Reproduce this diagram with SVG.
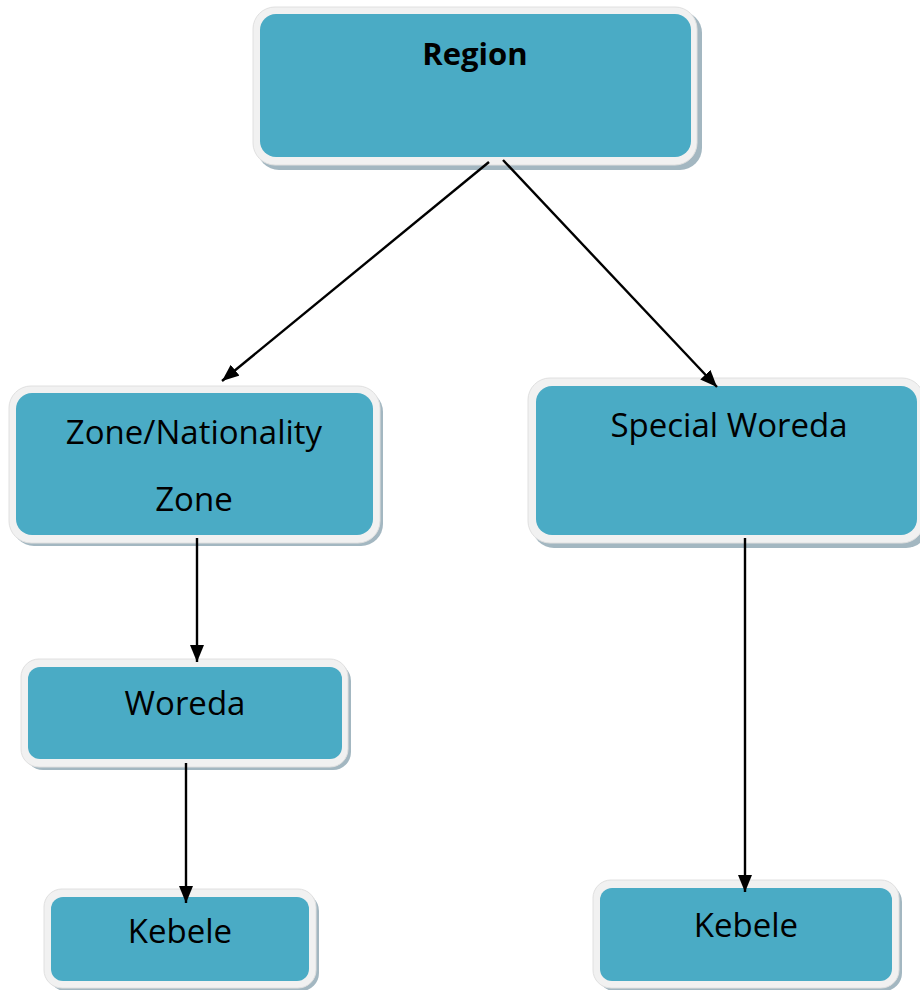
<svg xmlns="http://www.w3.org/2000/svg" width="920" height="990" viewBox="0 0 920 990">
<defs>
<style>
.sh{fill:#a3b7c1}
.out{fill:#f1f1f1;stroke:#e0e0e0;stroke-width:1}
.in{fill:#4aabc5}
.t{font-family:"Open Sans","Liberation Sans",sans-serif;font-size:33px;fill:#000;text-anchor:middle}
.b{font-weight:bold;font-size:31px}
.c{stroke:#000;stroke-width:2.4;fill:none;marker-end:url(#ah)}
</style>
<marker id="ah" viewBox="0 0 17 14" refX="17" refY="7" markerWidth="17" markerHeight="14" markerUnits="userSpaceOnUse" orient="auto">
<path d="M0,0 L17,7 L0,14 Z" fill="#000"/>
</marker>
</defs>
<rect width="920" height="990" fill="#fff"/>
<g id="region">
<rect class="sh" x="257" y="11" width="445" height="159" rx="22"/>
<rect class="out" x="253" y="7" width="444" height="158" rx="22"/>
<rect class="in" x="260" y="14" width="431" height="143" rx="16"/>
<text class="t b" x="475" y="65">Region</text>
</g>
<g id="zone">
<rect class="sh" x="12" y="390" width="371" height="156" rx="22"/>
<rect class="out" x="9" y="386" width="371" height="157" rx="22"/>
<rect class="in" x="16" y="393" width="357" height="142" rx="16"/>
<text class="t" x="194" y="444">Zone/Nationality</text>
<text class="t" x="194" y="511">Zone</text>
</g>
<g id="special-woreda">
<rect class="sh" x="532" y="383" width="396" height="165" rx="22"/>
<rect class="out" x="528" y="378" width="396" height="165" rx="22"/>
<rect class="in" x="536" y="386" width="381" height="149" rx="16"/>
<text class="t" x="729" y="437">Special Woreda</text>
</g>
<g id="woreda">
<rect class="sh" x="25" y="663" width="326" height="107" rx="18"/>
<rect class="out" x="21" y="659" width="327" height="108" rx="18"/>
<rect class="in" x="28" y="667" width="314" height="92" rx="12"/>
<text class="t" x="185" y="715">Woreda</text>
</g>
<g id="kebele-left">
<rect class="sh" x="48" y="893" width="271" height="98" rx="18"/>
<rect class="out" x="44" y="889" width="272" height="99" rx="18"/>
<rect class="in" x="51" y="897" width="258" height="84" rx="12"/>
<text class="t" x="180" y="943">Kebele</text>
</g>
<g id="kebele-right">
<rect class="sh" x="597" y="884" width="305" height="107" rx="18"/>
<rect class="out" x="593" y="880" width="306" height="108" rx="18"/>
<rect class="in" x="600" y="888" width="292" height="93" rx="12"/>
<text class="t" x="746" y="937">Kebele</text>
</g>
<g id="connectors">
<line class="c" x1="489" y1="162" x2="222" y2="381"/>
<line class="c" x1="503" y1="160" x2="717" y2="387"/>
<line class="c" x1="197" y1="538" x2="197" y2="662"/>
<line class="c" x1="186" y1="763" x2="186" y2="903"/>
<line class="c" x1="745" y1="538" x2="745" y2="892"/>
</g>
</svg>
